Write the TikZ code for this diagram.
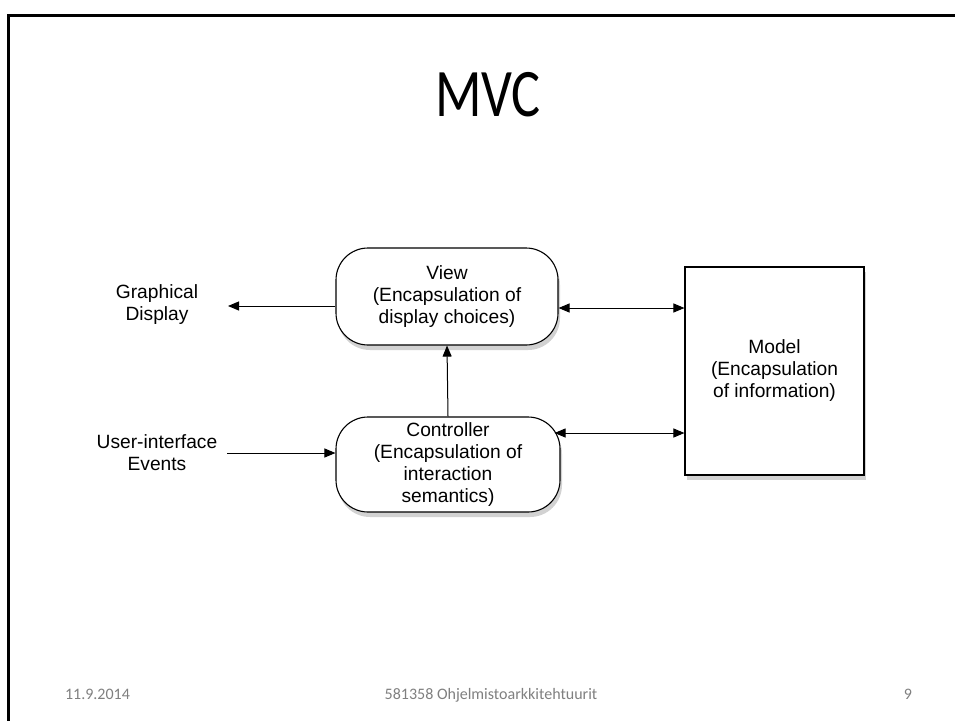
\documentclass[tikz,border=0pt]{standalone}
\usepackage{fontspec}
\setmainfont{Liberation Sans}
\newfontfamily\slidefont{Carlito}
\usetikzlibrary{arrows.meta,shadows}
\definecolor{footgray}{RGB}{128,128,128}
\tikzset{
  lbl/.style={align=center,font=\fontsize{19.2}{22}\selectfont,inner sep=0pt},
  roundbox/.style={draw,line width=1.1pt,fill=white,rounded corners=32pt,lbl,
    drop shadow={opacity=0.35,shadow xshift=2pt,shadow yshift=-5pt}},
  sqbox/.style={draw,line width=1.1pt,fill=white,lbl,
    drop shadow={opacity=0.35,shadow xshift=2pt,shadow yshift=-5pt}},
  conn/.style={line width=1pt,-{Triangle[length=11pt,width=9pt]}},
  biconn/.style={line width=1pt,{Triangle[length=11pt,width=9pt]}-{Triangle[length=11pt,width=9pt]}},
  foot/.style={font=\slidefont\fontsize{16}{18}\selectfont,text=footgray,inner sep=0pt,anchor=base}
}
\begin{document}
\begin{tikzpicture}[x=1pt,y=-1pt]
\useasboundingbox (0,0) rectangle (955,720);
\fill[white] (0,0) rectangle (955,720);
% slide frame
\draw[line width=3pt] (8,722) -- (8,15) -- (957,15);
% title
\node[inner sep=0pt] (title) at (488,95) {\scalebox{0.8}[1]{\slidefont\fontsize{68}{70}\selectfont MVC}};
% shapes
\node[roundbox,minimum width=222pt,minimum height=97pt] (view) at (447,296.5)
  {View\\(Encapsulation of\\display choices)};
\node[roundbox,minimum width=224pt,minimum height=95pt] (ctrl) at (448,464.5)
  {Controller\\(Encapsulation of\\interaction\\semantics)};
\node[sqbox,minimum width=179pt,minimum height=208pt] (model) at (774.5,371)
  {Model\\(Encapsulation\\of information)};
\node[lbl] (gd) at (157,305) {Graphical\\Display};
\node[lbl] (ui) at (157,453) {User-interface\\Events};
% connector ends
\coordinate (gdtip) at (228,306);
\coordinate (uistart) at (227,453);
\coordinate (vm) at (0,308);
\coordinate (cm) at (0,433);
% connectors
\draw[conn] (view.west |- gdtip) -- (gdtip);
\draw[conn] (uistart) -- (ctrl.west |- uistart);
\draw[conn] (ctrl.north) -- (view.south);
\draw[biconn] (view.east |- vm) -- (model.west |- vm);
\draw[biconn,shorten <=-1pt] ([xshift=-5pt]ctrl.east |- cm) -- (model.west |- cm);
% footer
\node[foot] (date) at (97.5,699) {11.9.2014};
\node[foot] (course) at (491,699) {581358 Ohjelmistoarkkitehtuurit};
\node[foot] (page) at (908,699) {9};
\end{tikzpicture}
\end{document}
